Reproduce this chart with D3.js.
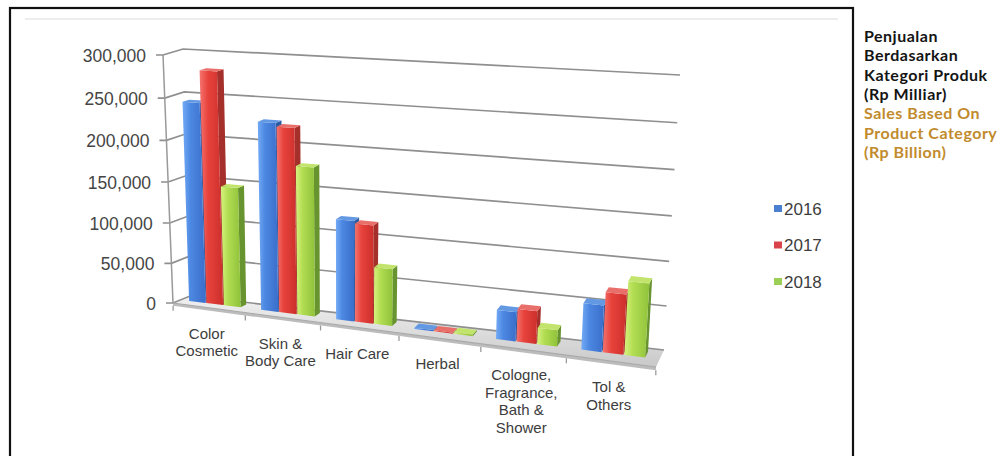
<!DOCTYPE html>
<html><head><meta charset="utf-8">
<script src="https://cdn.jsdelivr.net/npm/d3@7"></script>
<style>body{margin:0;background:#fff}svg{display:block}</style>
</head><body>
<svg id="chart" width="1007" height="456"></svg>
<script>
const categories = ["Color Cosmetic","Skin & Body Care","Hair Care","Herbal","Cologne, Fragrance, Bath & Shower","Tol & Others"];
const categoryLines = [["Color","Cosmetic"],["Skin &","Body Care"],["Hair Care"],["Herbal"],["Cologne,","Fragrance,","Bath &","Shower"],["Tol &","Others"]];
const seriesNames = ["2016","2017","2018"];
const sales2016 = [243000, 226000, 120000, 1500, 34000, 53000];
const sales2017 = [281000, 222000, 117000, 1200, 38000, 68000];
const sales2018 = [146000, 178000, 68000, 1800, 19000, 83000];
const yTicks = [0, 50000, 100000, 150000, 200000, 250000, 300000];
const titleLinesId = ["Penjualan","Berdasarkan","Kategori Produk","(Rp Milliar)"];
const titleLinesEn = ["Sales Based On","Product Category","(Rp Billion)"];

const seriesValues = [sales2016, sales2017, sales2018];
const frontStops = [["#74abf6","#4c88e2","#3a6ecb"],["#f5746f","#e8433d","#cc2f2b"],["#d8f27f","#b2dd52","#8fc23a"]];
const sideCol = ["#2c5aa3","#a52f2a","#68942f"];
const topCol = ["#6399e3","#e86f6a","#c2e46d"];
const legendCol = ["#4a80cf","#d9444c","#9bcf55"];

const svg = d3.select("#chart");
const defs = svg.append("defs");
frontStops.forEach((st,i)=>{
  const g = defs.append("linearGradient").attr("id","fg"+i).attr("x1",0).attr("x2",1).attr("y1",0).attr("y2",0);
  g.append("stop").attr("offset",0).attr("stop-color",st[0]);
  g.append("stop").attr("offset",0.35).attr("stop-color",st[1]);
  g.append("stop").attr("offset",1).attr("stop-color",st[2]);
});
const fl = defs.append("linearGradient").attr("id","floorG").attr("x1",0).attr("x2",0).attr("y1",0).attr("y2",1);
fl.append("stop").attr("offset",0).attr("stop-color","#f0f0f0");
fl.append("stop").attr("offset",1).attr("stop-color","#c9c9c9");

// 3D frame (screen corners of the plot cube)
const C = {fbl:[173,303], ftl:[163,55], bbl:[190,296], btl:[183,49],
           fbr:[656,367], ftr:[673,86], bbr:[664,350], btr:[680,75]};
const persp = (t,c)=> t/(t + c*(1-t));
const L = (a,b,t)=>[a[0]+(b[0]-a[0])*t, a[1]+(b[1]-a[1])*t];
function proj(u,v,w){
  const U = persp(u,1.137), V = persp(v,1.05);
  const l0=L(C.fbl,C.ftl,V), r0=L(C.fbr,C.ftr,V), l1=L(C.bbl,C.btl,V), r1=L(C.bbr,C.btr,V);
  return L(L(l0,r0,U), L(l1,r1,U), w);
}
const poly = pts => "M"+pts.map(p=>p[0].toFixed(2)+","+p[1].toFixed(2)).join("L")+"Z";
const line = pts => "M"+pts.map(p=>p[0].toFixed(2)+","+p[1].toFixed(2)).join("L");

const x = d3.scaleBand().domain(categories).range([0,1]).padding(0);
const s = d3.scaleBand().domain(seriesNames).range([0.12,0.84]).paddingInner(0.05);
const y = d3.scaleLinear().domain([0,300000]).range([0,1]);
const bw = x.bandwidth();

// outer frame
svg.append("rect").attr("x",10).attr("y",8).attr("width",843).attr("height",470)
  .attr("fill","none").attr("stroke","#111").attr("stroke-width",2.2);
svg.append("line").attr("x1",25).attr("x2",838).attr("y1",19).attr("y2",19)
  .attr("stroke","#ededed").attr("stroke-width",2);

// floor
svg.append("path").attr("d",poly([proj(0,0,0),proj(1,0,0),proj(1,0,1),proj(0,0,1)])).attr("fill","url(#floorG)");
svg.append("path").attr("d",poly([proj(0,0,0),proj(1,0,0),proj(1,-0.012,0),proj(0,-0.012,0)])).attr("fill","#bcbcbc");

// gridlines
yTicks.forEach(t=>{
  const v=y(t), a=proj(0,v,0);
  svg.append("path").attr("d",line([[a[0]-7,a[1]],a,proj(0,v,1),proj(1,v,1)]))
    .attr("fill","none").attr("stroke","#8f8f8f").attr("stroke-width",1.7);
  svg.append("text").attr("x",a[0]-17).attr("y",a[1]+1).attr("text-anchor","end")
    .attr("dominant-baseline","central").attr("font-family","Liberation Sans, Arial, sans-serif")
    .attr("font-size",17.5).attr("fill","#454545").text(d3.format(",")(t));
});
svg.append("path").attr("d",line([proj(0,0,0),proj(0,1,0)])).attr("stroke","#999").attr("stroke-width",1.5);
svg.append("path").attr("d",line([proj(0,0,0),proj(1,0,0)])).attr("stroke","#a8a8a8").attr("stroke-width",1.2);
d3.range(categories.length+1).forEach(k=>{
  const p=proj(k*bw,-0.012,0);
  svg.append("line").attr("x1",p[0]).attr("x2",p[0]).attr("y1",p[1]).attr("y2",p[1]+5)
    .attr("stroke","#9a9a9a").attr("stroke-width",1.3);
});

// bars
const w0=0.45, w1=0.8;
categories.forEach((c,ci)=>{
  seriesNames.forEach((sn,si)=>{
    const val=seriesValues[si][ci];
    const u0=x(c)+s(sn)*bw, u1=u0+s.bandwidth()*bw, v=y(val);
    const g=svg.append("g");
    g.append("path").attr("d",poly([proj(u1,0,w0),proj(u1,0,w1),proj(u1,v,w1),proj(u1,v,w0)])).attr("fill",sideCol[si]);
    g.append("path").attr("d",poly([proj(u0,0,w0),proj(u1,0,w0),proj(u1,v,w0),proj(u0,v,w0)])).attr("fill","url(#fg"+si+")");
    g.append("path").attr("d",poly([proj(u0,v,w0),proj(u1,v,w0),proj(u1,v,w1),proj(u0,v,w1)])).attr("fill",topCol[si]);
  });
});

// category labels
categories.forEach((c,ci)=>{
  const p=proj(x(c)+bw/2,0,0);
  const t=svg.append("text").attr("text-anchor","middle").attr("font-family","Liberation Sans, Arial, sans-serif")
    .attr("font-size",15).attr("fill","#3d3d3d");
  categoryLines[ci].forEach((ln,i)=>{
    t.append("tspan").attr("x",p[0]-2).attr("y",p[1]+31+i*17.5).text(ln);
  });
});

// legend
seriesNames.forEach((sn,i)=>{
  const ly=209+i*36.5;
  svg.append("rect").attr("x",774).attr("y",ly-4).attr("width",8).attr("height",7).attr("fill",legendCol[i]);
  svg.append("text").attr("x",784).attr("y",ly).attr("dominant-baseline","central")
    .attr("font-family","Liberation Sans, Arial, sans-serif").attr("font-size",17).attr("fill","#3d3d3d").text(sn);
});

// side title
titleLinesId.concat(titleLinesEn).forEach((ln,i)=>{
  svg.append("text").attr("x",864).attr("y",42+i*19.3)
    .attr("font-family","Lato, sans-serif").attr("font-weight",700).attr("font-size",16)
    .attr("letter-spacing",0.5)
    .attr("fill", i<titleLinesId.length?"#141414":"#c18b2d").text(ln);
});
</script>
</body></html>
